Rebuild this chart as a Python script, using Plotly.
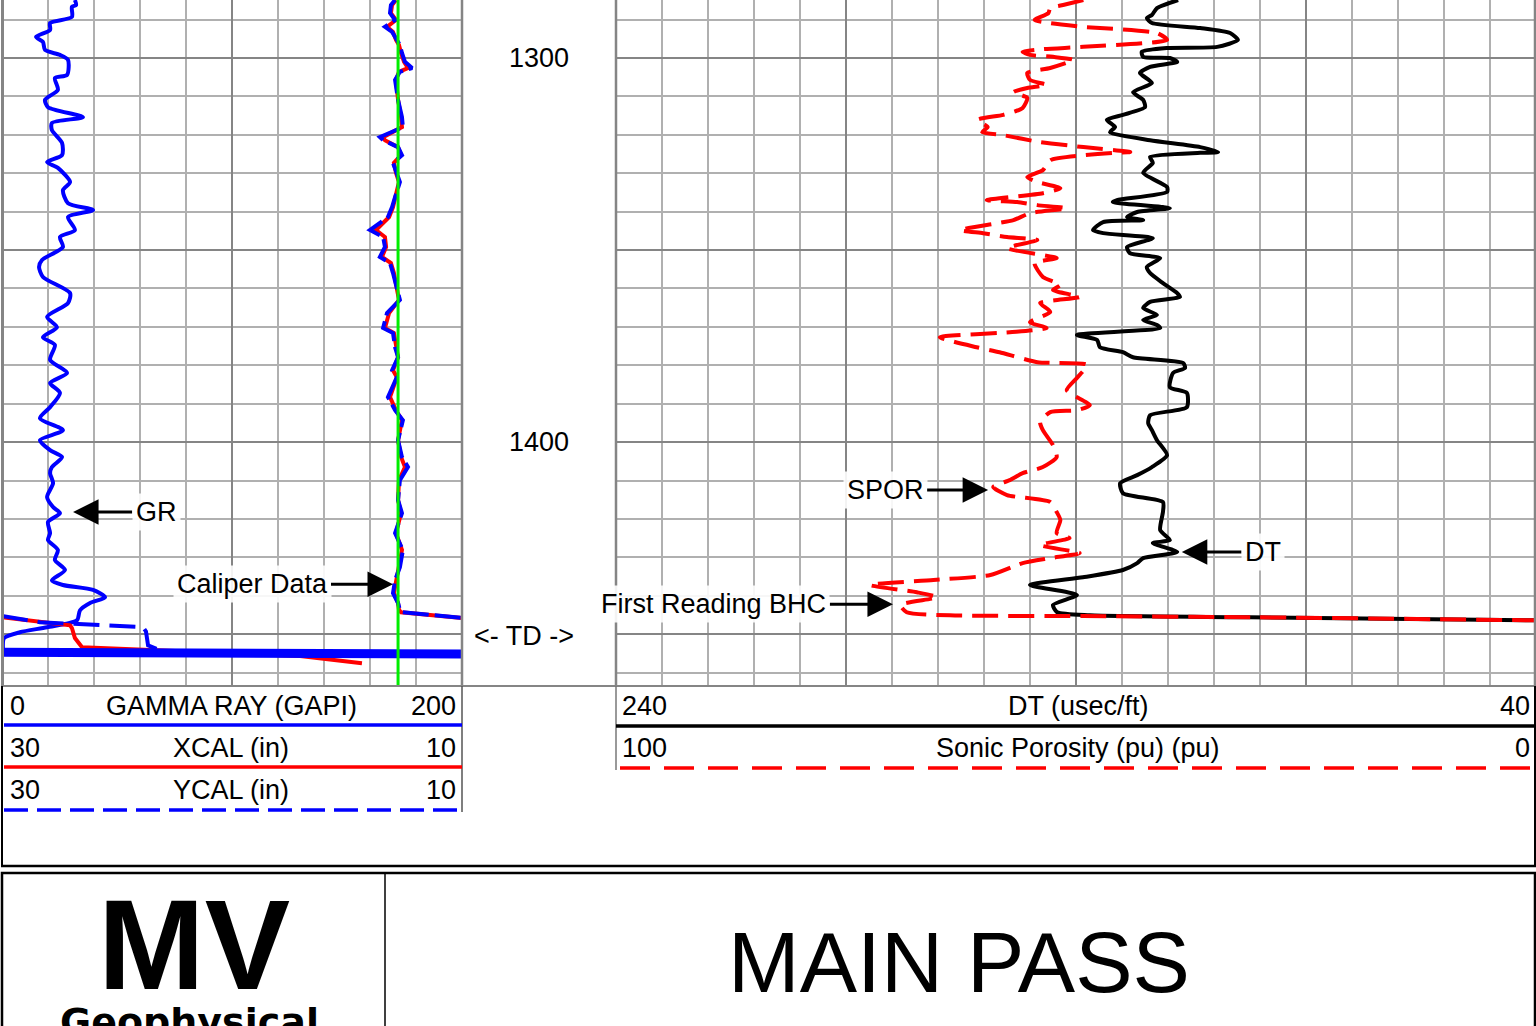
import plotly.graph_objects as go

W, H = 1536, 1026

# Gamma ray (GAPI) vs depth (ft)
gr_depth = [1284.9, 1286.2, 1286.7, 1289.3, 1290.9, 1292.7, 1294.5, 1295.8, 1297.9, 1299.2,
            1300.5, 1304.4, 1305.2, 1308.3, 1310.9, 1312.8, 1315.4, 1316.9, 1318.8, 1322.1,
            1325.3, 1327.1, 1328.6, 1332.3, 1334.4, 1337.8, 1339.6, 1341.4, 1344.8, 1346.6,
            1349.2, 1352.6, 1354.4, 1357.0, 1361.2, 1363.8, 1367.4, 1370.1, 1372.7, 1374.7,
            1378.6, 1382.0, 1384.6, 1387.2, 1390.9, 1393.8, 1396.9, 1399.5, 1402.1, 1403.9,
            1406.5, 1408.1, 1410.7, 1414.3, 1416.9, 1418.5, 1420.8, 1423.7, 1425.5, 1428.1,
            1430.7, 1433.3, 1436.0, 1437.2, 1438.5, 1440.4, 1441.9, 1443.8, 1446.4, 1448.2,
            1449.5, 1451.0, 1453.6]
gr_val = [31.7, 32.2, 30.4, 30.4, 20.9, 20.9, 14.8, 17.8, 18.7, 25.2,
          28.7, 28.3, 23.0, 24.3, 18.7, 20.0, 35.2, 21.7, 21.7, 26.1,
          26.1, 19.6, 24.3, 29.6, 26.5, 28.7, 39.6, 28.7, 31.7, 25.2,
          26.5, 17.4, 16.1, 17.8, 29.6, 28.7, 19.6, 23.9, 17.8, 23.0,
          20.9, 28.3, 20.9, 25.2, 20.9, 16.5, 26.5, 16.5, 20.9, 26.1,
          21.7, 20.9, 22.2, 19.6, 22.2, 25.2, 20.0, 20.9, 20.0, 24.3,
          23.0, 27.4, 21.7, 26.5, 39.6, 44.8, 38.3, 33.9, 32.6, 19.6,
          7.8, 0.9, 0.4]

# Calipers (in) vs depth (ft)
cal_depth = [1284.9, 1286.2, 1288.3, 1290.1, 1291.9, 1293.2, 1295.3, 1296.6, 1298.7, 1301.0,
             1302.6, 1303.6, 1305.7, 1310.9, 1315.4, 1318.0, 1320.6, 1321.4, 1323.2, 1325.3,
             1327.3, 1329.9, 1332.3, 1336.2, 1338.8, 1341.4, 1344.8, 1346.6, 1349.2, 1351.8,
             1353.4, 1356.0, 1359.6, 1363.0, 1366.4, 1370.3, 1371.6, 1375.3, 1377.9, 1381.3,
             1383.1, 1388.3, 1391.7, 1394.3, 1399.5, 1403.9, 1406.5, 1409.9, 1415.1, 1418.5,
             1423.7, 1428.1, 1432.6, 1435.9, 1439.3, 1441.9, 1443.7, 1444.3, 1445.8]
ycal_val = [12.91, 13.09, 13.13, 12.91, 13.35, 13.04, 12.83, 12.70, 12.61, 12.48,
            12.17, 12.70, 12.91, 12.78, 12.61, 12.57, 13.57, 13.43, 12.78, 12.61,
            13.00, 12.83, 12.70, 12.91, 13.04, 13.22, 14.00, 13.43, 13.35, 13.57,
            13.13, 13.00, 12.83, 12.70, 13.26, 13.43, 13.00, 12.91, 12.78, 13.04,
            12.83, 13.22, 12.91, 12.57, 12.78, 12.61, 12.35, 12.70, 12.78, 12.61,
            12.91, 12.57, 12.70, 12.91, 13.00, 12.78, 12.70, 12.61, 9.96]
xcal_val = [12.87, 13.04, 13.09, 12.87, 13.26, 13.00, 12.87, 12.74, 12.65, 12.52,
            12.35, 12.74, 12.87, 12.78, 12.65, 12.61, 13.43, 13.35, 12.78, 12.65,
            12.96, 12.87, 12.74, 12.87, 13.00, 13.17, 13.74, 13.35, 13.30, 13.48,
            13.09, 12.96, 12.83, 12.74, 13.17, 13.35, 12.96, 12.87, 12.78, 13.00,
            12.83, 13.13, 12.87, 12.61, 12.78, 12.65, 12.48, 12.74, 12.78, 12.65,
            12.87, 12.61, 12.74, 12.87, 12.96, 12.78, 12.74, 12.65, 9.96]
# wrapped (backup-scale) caliper readings below TD
xcal_wrap_depth = [1445.6, 1447.7, 1448.4, 1451.0, 1453.4, 1454.2, 1455.7, 1457.6]
xcal_wrap_val = [30.0, 27.04, 26.96, 26.83, 26.52, 23.13, 17.04, 14.35]
ycal_wrap_depth = [1445.3, 1446.9, 1448.2, 1449.3, 1452.9, 1454.2]
ycal_wrap_val = [30.0, 28.35, 23.87, 23.74, 23.65, 23.13]
ycal_band_depth = [1454.7, 1455.2]
ycal_band_val = [30.0, 10.0]
# bit size (in)
bit_depth = [1284.0, 1466.0]
bit_val = [12.78, 12.78]

# Sonic DT (usec/ft) vs depth (ft)
dt_depth = [1284.9, 1287.0, 1288.8, 1289.6, 1290.9, 1292.2, 1293.5, 1295.3, 1297.1, 1297.4,
            1298.4, 1299.7, 1300.0, 1301.0, 1302.3, 1303.9, 1306.5, 1308.9, 1310.9, 1312.8,
            1314.8, 1316.1, 1318.0, 1319.3, 1321.4, 1323.2, 1324.5, 1324.7, 1325.8, 1327.3,
            1329.9, 1333.6, 1334.9, 1337.0, 1337.5, 1338.8, 1339.1, 1340.1, 1341.4, 1342.2,
            1342.7, 1344.8, 1345.6, 1346.9, 1349.2, 1350.8, 1352.1, 1354.4, 1356.0, 1358.6,
            1361.2, 1362.2, 1363.5, 1365.1, 1366.9, 1368.2, 1369.5, 1370.3, 1372.1, 1373.4,
            1375.3, 1376.6, 1377.9, 1379.4, 1380.7, 1382.0, 1385.7, 1387.2, 1390.9, 1393.0,
            1395.1, 1396.9, 1399.5, 1403.4, 1406.5, 1408.6, 1410.7, 1413.3, 1415.6, 1418.2,
            1422.9, 1425.5, 1426.3, 1428.6, 1430.2, 1431.5, 1433.3, 1435.2, 1437.2, 1439.8,
            1442.4, 1444.3, 1445.1, 1445.6, 1446.4]
dt_val = [117.8, 122.4, 123.5, 124.6, 123.5, 113.0, 106.5, 104.8, 109.3, 120.2,
          125.7, 125.4, 119.6, 118.0, 123.9, 126.1, 123.5, 127.6, 125.4, 125.0,
          129.8, 133.3, 131.5, 132.6, 123.9, 113.0, 109.1, 113.0, 123.9, 123.3,
          125.4, 120.2, 120.2, 131.1, 132.0, 121.1, 119.6, 126.7, 128.9, 125.4,
          134.1, 136.3, 134.1, 123.3, 128.9, 128.3, 121.7, 124.6, 123.9, 121.1,
          118.0, 117.4, 123.9, 125.4, 122.4, 125.4, 122.4, 121.7, 139.8, 135.4,
          134.8, 129.8, 127.6, 116.7, 116.3, 118.9, 119.6, 115.9, 115.9, 123.9,
          124.3, 123.5, 122.4, 120.2, 123.5, 126.7, 130.4, 129.8, 121.1, 121.1,
          121.7, 119.6, 123.3, 118.0, 125.4, 126.7, 129.8, 138.5, 150.0, 139.8,
          145.0, 144.1, 137.0, 102.2, 40.0]

# Sonic porosity (pu) vs depth (ft)
spor_depth = [1284.9, 1286.2, 1287.0, 1288.3, 1290.1, 1290.9, 1291.9, 1293.5, 1295.3, 1297.1,
              1297.7, 1298.4, 1299.2, 1299.7, 1300.5, 1302.6, 1303.9, 1305.7, 1307.0, 1307.8,
              1308.9, 1310.4, 1313.0, 1314.8, 1316.1, 1318.0, 1319.3, 1320.1, 1321.9, 1323.2,
              1324.5, 1324.7, 1325.3, 1326.6, 1329.2, 1331.0, 1332.3, 1333.9, 1335.2, 1337.0,
              1337.5, 1338.3, 1339.1, 1340.4, 1342.2, 1344.8, 1345.6, 1346.6, 1347.4, 1349.5,
              1352.1, 1353.4, 1357.0, 1359.1, 1360.4, 1362.2, 1363.8, 1366.1, 1368.8, 1370.3,
              1371.4, 1372.7, 1375.3, 1376.6, 1379.2, 1379.9, 1383.3, 1386.5, 1390.4, 1391.7,
              1392.2, 1394.8, 1396.9, 1400.8, 1403.9, 1406.5, 1408.1, 1409.9, 1411.7, 1413.8,
              1415.6, 1418.2, 1420.3, 1423.7, 1425.0, 1426.8, 1428.9, 1430.2, 1431.5, 1434.6,
              1435.9, 1437.2, 1439.1, 1440.4, 1442.4, 1444.3, 1445.1, 1445.3, 1445.6, 1446.4]
spor_val = [49.2, 51.4, 52.8, 53.0, 54.5, 52.8, 49.2, 41.2, 40.1, 49.2,
            53.6, 55.8, 55.0, 52.5, 50.3, 52.8, 55.3, 55.0, 53.2, 55.3,
            56.8, 55.3, 55.8, 57.9, 60.7, 59.6, 60.2, 57.9, 53.9, 49.2,
            44.1, 46.0, 49.2, 52.8, 53.6, 55.3, 54.2, 51.7, 53.6, 59.7,
            56.4, 54.2, 51.0, 55.0, 56.8, 62.6, 60.1, 57.5, 54.2, 57.5,
            52.1, 54.5, 53.6, 51.7, 52.5, 49.6, 53.9, 52.8, 55.0, 53.2,
            57.2, 64.8, 60.8, 58.3, 54.2, 48.8, 49.9, 51.0, 48.5, 49.9,
            52.8, 53.9, 53.6, 52.5, 52.1, 53.6, 55.8, 57.2, 59.0, 57.5,
            52.8, 52.1, 51.7, 52.1, 50.7, 53.9, 49.6, 52.8, 55.8, 59.3,
            65.5, 72.4, 67.3, 65.1, 69.1, 68.4, 63.7, 49.2, 31.1, 0.0]

depth_labels = [1300, 1400]
td_depth = 1450.5

# ---------------- helpers (pixel -> paper) ----------------
def P(x):
    return x / W


def Q(y):
    return 1 - y / H


FONT = "Liberation Sans, Arial, sans-serif"
GRID_MAJ = "#858585"
GRID_MIN = "#b0b0b0"
TRACK_TOP, TRACK_BOT = 0, 686
Y_DOMAIN = [Q(TRACK_BOT), Q(TRACK_TOP)]
Y_RANGE = [1463.5, 1284.9]

fig = go.Figure()

# ---- left track: GR + calipers ----
fig.add_trace(go.Scatter(x=gr_val, y=gr_depth, xaxis="x", yaxis="y", mode="lines",
                         line=dict(color="#0000ff", width=4, shape="spline", smoothing=0.7),
                         name="GR", showlegend=False))
fig.add_trace(go.Scatter(x=xcal_val, y=cal_depth, xaxis="x2", yaxis="y", mode="lines",
                         line=dict(color="#ff0000", width=4), name="XCAL", showlegend=False))
fig.add_trace(go.Scatter(x=xcal_wrap_val, y=xcal_wrap_depth, xaxis="x2", yaxis="y", mode="lines",
                         line=dict(color="#ff0000", width=4), name="XCAL wrap", showlegend=False))
fig.add_trace(go.Scatter(x=ycal_val, y=cal_depth, xaxis="x2", yaxis="y", mode="lines",
                         line=dict(color="#0000ff", width=4, dash="26px,6px"),
                         name="YCAL", showlegend=False))
fig.add_trace(go.Scatter(x=ycal_wrap_val, y=ycal_wrap_depth, xaxis="x2", yaxis="y", mode="lines",
                         line=dict(color="#0000ff", width=4, dash="26px,10px"),
                         name="YCAL wrap", showlegend=False))
fig.add_trace(go.Scatter(x=ycal_band_val, y=ycal_band_depth, xaxis="x2", yaxis="y", mode="lines",
                         line=dict(color="#0000ff", width=9), name="YCAL band", showlegend=False))
fig.add_trace(go.Scatter(x=bit_val, y=bit_depth, xaxis="x2", yaxis="y", mode="lines",
                         line=dict(color="#00ee00", width=3), name="Bit", showlegend=False))

# ---- right track: DT + SPOR ----
fig.add_trace(go.Scatter(x=dt_val, y=dt_depth, xaxis="x3", yaxis="y2", mode="lines",
                         line=dict(color="#000000", width=4, shape="spline", smoothing=0.6),
                         name="DT", showlegend=False))
fig.add_trace(go.Scatter(x=spor_val, y=spor_depth, xaxis="x4", yaxis="y2", mode="lines",
                         line=dict(color="#ff0000", width=4, dash="26px,10px",
                                   shape="spline", smoothing=0.6),
                         name="SPOR", showlegend=False))

common_x = dict(showticklabels=False, ticks="", zeroline=False, showline=False, fixedrange=True)
common_y = dict(showticklabels=False, ticks="", zeroline=False, showline=False, fixedrange=True,
                domain=Y_DOMAIN, range=Y_RANGE, tick0=1300, dtick=50,
                showgrid=True, gridcolor=GRID_MAJ, gridwidth=2.2,
                minor=dict(dtick=10, showgrid=True, gridcolor=GRID_MIN, gridwidth=1.5))

fig.update_layout(
    width=W, height=H, margin=dict(l=0, r=0, t=0, b=0),
    paper_bgcolor="white", plot_bgcolor="white", showlegend=False,
    xaxis=dict(domain=[P(2), P(462)], range=[0, 200], anchor="y", tick0=0, dtick=100,
               showgrid=True, gridcolor=GRID_MAJ, gridwidth=2.2,
               minor=dict(dtick=20, showgrid=True, gridcolor=GRID_MIN, gridwidth=1.5), **common_x),
    xaxis2=dict(domain=[P(2), P(462)], range=[30, 10], overlaying="x", anchor="y",
                showgrid=False, **common_x),
    xaxis3=dict(domain=[P(616), 1], range=[240, 40], anchor="y2", tick0=40, dtick=50,
                showgrid=True, gridcolor=GRID_MAJ, gridwidth=2.2,
                minor=dict(dtick=10, showgrid=True, gridcolor=GRID_MIN, gridwidth=1.5), **common_x),
    xaxis4=dict(domain=[P(616), 1], range=[100, 0], overlaying="x3", anchor="y2",
                showgrid=False, **common_x),
    yaxis=dict(anchor="x", **common_y),
    yaxis2=dict(anchor="x3", matches="y", **common_y),
)

shapes = []


def hline(x0, x1, y, color, width, dash=None):
    ln = dict(color=color, width=width)
    if dash:
        ln["dash"] = dash
    shapes.append(dict(type="line", xref="paper", yref="paper", x0=P(x0), x1=P(x1),
                       y0=Q(y), y1=Q(y), line=ln, layer="above"))


def vline(x, y0, y1, color, width):
    shapes.append(dict(type="line", xref="paper", yref="paper", x0=P(x), x1=P(x),
                       y0=Q(y0), y1=Q(y1), line=dict(color=color, width=width), layer="above"))


# track borders
vline(2.5, TRACK_TOP, TRACK_BOT, GRID_MAJ, 3)
vline(462, TRACK_TOP, TRACK_BOT, GRID_MAJ, 2.5)
vline(616, TRACK_TOP, TRACK_BOT, GRID_MAJ, 2.5)
vline(1535, TRACK_TOP, TRACK_BOT, GRID_MAJ, 2.5)
hline(2, 1536, TRACK_BOT, GRID_MAJ, 2)

# header frame
vline(2, TRACK_BOT, 867, "#000000", 2)
vline(462, TRACK_BOT, 812, "#555555", 1.5)
vline(616, TRACK_BOT, 770, "#777777", 1.5)
vline(1535, TRACK_BOT, 867, "#000000", 2)
hline(1, 1536, 866, "#000000", 2.5)

# header legend lines
hline(4, 462, 725, "#0000ff", 3.5)
hline(4, 462, 767, "#ff0000", 3.5)
hline(4, 462, 810, "#0000ff", 3.5, dash="24px,9px")
hline(616, 1536, 726, "#000000", 3.5)
hline(620, 1536, 768, "#ff0000", 3.5, dash="30px,14px")

# bottom title box
shapes.append(dict(type="rect", xref="paper", yref="paper", x0=P(2), x1=P(1535),
                   y0=Q(1030), y1=Q(873), line=dict(color="#000000", width=2.5)))
vline(385, 873, 1026, "#000000", 1.5)

fig.update_layout(shapes=shapes)

ann = []


def ptext(x, y, text, size=27, xanchor="center", family=FONT, color="black"):
    ann.append(dict(x=P(x), y=Q(y), xref="paper", yref="paper", text=text, showarrow=False,
                    xanchor=xanchor, yanchor="middle",
                    font=dict(family=family, size=size, color=color)))


# header texts
ptext(8, 706, "0", xanchor="left")
ptext(231, 706, "GAMMA RAY (GAPI)")
ptext(458, 706, "200", xanchor="right")
ptext(8, 748, "30", xanchor="left")
ptext(231, 748, "XCAL (in)")
ptext(458, 748, "10", xanchor="right")
ptext(8, 790, "30", xanchor="left")
ptext(231, 790, "YCAL (in)")
ptext(458, 790, "10", xanchor="right")
ptext(620, 706, "240", xanchor="left")
ptext(1078, 706, "DT (usec/ft)")
ptext(1532, 706, "40", xanchor="right")
ptext(620, 748, "100", xanchor="left")
ptext(1078, 748, "Sonic Porosity (pu) (pu)")
ptext(1532, 748, "0", xanchor="right")

# title block
ptext(194, 944, "<b>MV</b>", size=128, family="Liberation Sans, Arial")
ptext(189, 1022, "<b>Geophysical</b>", size=38, family="DejaVu Sans, Liberation Sans")
ptext(959, 962, "MAIN PASS", size=86)

# depth labels in depth track
for d in depth_labels:
    ann.append(dict(x=P(539), y=d, xref="paper", yref="y", text=str(d), showarrow=False,
                    xanchor="center", yanchor="middle", font=dict(family=FONT, size=27, color="black")))
ann.append(dict(x=P(524), y=td_depth, xref="paper", yref="y", text="<- TD ->", showarrow=False,
                xanchor="center", yanchor="middle", font=dict(family=FONT, size=27, color="black")))


def arrow(x, y, xref, yref, text, ax):
    ann.append(dict(x=x, y=y, xref=xref, yref=yref, text=text, showarrow=True,
                    ax=ax, ay=0, arrowhead=2, arrowsize=1.7, arrowwidth=3, arrowcolor="black",
                    bgcolor="rgba(255,255,255,0.9)", borderpad=3,
                    font=dict(family=FONT, size=27, color="black")))


arrow(30.9, 1418.2, "x", "y", "GR", 83)
arrow(170.0, 1437.0, "x", "y", "Caliper Data", -141)
arrow(159.1, 1412.5, "x3", "y2", "SPOR", -103)
arrow(117.0, 1428.6, "x3", "y2", "DT", 81)
arrow(179.8, 1442.2, "x3", "y2", "First Reading BHC", -179)

fig.update_layout(annotations=ann)

fig.write_html("out.html", config={"displayModeBar": False},
               post_script="document.body.style.margin='0';document.body.style.overflow='hidden';")
